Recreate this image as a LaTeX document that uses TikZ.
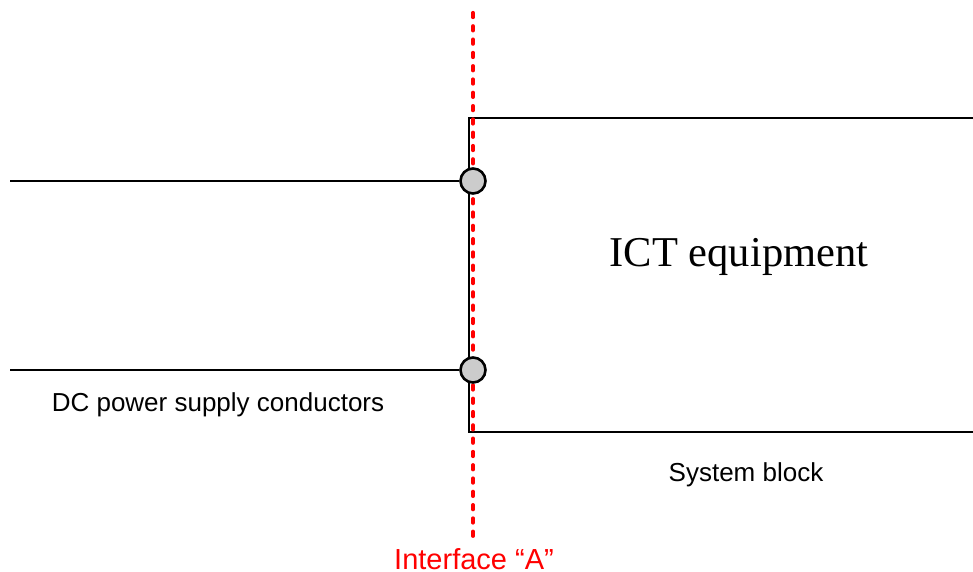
\documentclass[tikz,border=0pt]{standalone}
\usepackage{fontspec}
\setmainfont{Liberation Sans}
\newfontfamily\ictserif{Liberation Serif}
\usetikzlibrary{positioning}
\definecolor{ifred}{RGB}{255,0,0}
\definecolor{termgray}{RGB}{204,204,204}

\begin{document}
\begin{tikzpicture}[x=1pt,y=1pt,
    wire/.style={line width=2.8pt,black},
    term/.style={circle,draw=black,line width=2.6pt,fill=termgray,minimum size=25pt,inner sep=0pt},
    iface/.style={ifred,line width=3.8pt,line cap=round,dash pattern=on 4.5pt off 8.8pt},
    lbl/.style={anchor=base,inner sep=0pt,text depth=0pt,font=\fontsize{26}{30}\selectfont}
  ]
  \useasboundingbox (0,0) rectangle (973,-572);
  % system block (open to the right)
  \coordinate (bx tr) at (973,-118);
  \coordinate (bx tl) at (469,-118);
  \coordinate (bx bl) at (469,-432);
  \coordinate (bx br) at (973,-432);
  \draw[wire] (bx tr) -- (bx tl) -- (bx bl) -- (bx br);
  % interface line
  \coordinate (if top) at (473,-12.8);
  \coordinate (if bot) at (473,-543);
  \draw[iface] (if top) -- (if bot);
  % terminals and conductors
  \node[term] (pa) at (473,-181) {};
  \node[term] (pb) at (473,-370) {};
  \coordinate (wa) at (10,-181);
  \coordinate (wb) at (10,-370);
  \draw[wire] (wa) -- (pa.west);
  \draw[wire] (wb) -- (pb.west);
  % labels
  \node[lbl,font=\ictserif\fontsize{42.5}{48}\selectfont] (ict) at (739,-266) {ICT equipment};
  \node[lbl] (dc)  at (218,-411) {DC power supply conductors};
  \node[lbl] (sys) at (746,-481) {System block};
  \node[lbl,text=ifred,font=\fontsize{29}{32}\selectfont] (ifa) at (474,-569) {Interface “A”};
\end{tikzpicture}
\end{document}
